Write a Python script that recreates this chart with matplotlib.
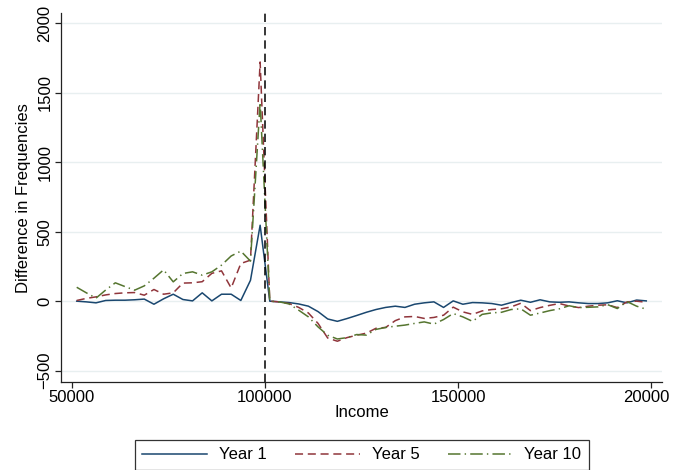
import numpy as np
import matplotlib
matplotlib.use("Agg")
import matplotlib.pyplot as plt
from matplotlib.transforms import Bbox, TransformedBbox

plt.rcParams['font.family'] = ['Liberation Sans', 'DejaVu Sans']
plt.rcParams['lines.scale_dashes'] = False

# --- income bins (2500 wide, from 50000 to 200000), plotted at the midpoint ---
income = np.arange(51250, 200000, 2500)

year1 = [0, -5, -12, 5, 7, 7, 10, 15, -22, 17,
         50, 12, 2, 60, 2, 50, 50, 5, 150, 546,
         0, -5, -10, -20, -36, -75, -128, -145, -125, -103,
         -80, -60, -45, -36, -45, -22, -12, -5, -45, 2,
         -22, -10, -12, -17, -29, -10, 7, -8, 10, -5,
         -8, -5, -12, -17, -17, -12, 3, -12, 8, 2]

year5 = [5, 20, 31, 45, 55, 60, 62, 43, 84, 50,
         60, 130, 132, 140, 200, 218, 95, 271, 295, 1720,
         0, -5, -17, -45, -85, -160, -265, -288, -262, -245,
         -230, -195, -189, -140, -113, -110, -124, -117, -101, -43,
         -77, -95, -70, -60, -55, -41, -15, -68, -46, -30,
         -17, -35, -46, -36, -29, -26, -46, -5, 0, -8]

year10 = [100, 60, 22, 80, 132, 105, 79, 110, 165, 225,
          139, 199, 211, 187, 211, 259, 325, 360, 288, 1430,
          0, -5, -20, -65, -113, -185, -245, -272, -262, -240,
          -244, -203, -189, -180, -172, -160, -149, -165, -132, -89,
          -113, -145, -95, -84, -80, -60, -55, -101, -85, -68,
          -55, -33, -46, -44, -41, -25, -53, -3, -36, -58]

threshold = 100000
xticks = [50000, 100000, 150000, 200000]
yticks = [-500, 0, 500, 1000, 1500, 2000]

fig = plt.figure(figsize=(6.84, 4.70), dpi=100)
ax = fig.add_axes([0.089, 0.187, 0.879, 0.785])

ax.plot(income, year1, color='#1a476f', lw=1.1, label='Year 1')
ax.plot(income, year5, color='#90353b', lw=1.1, ls=(0, (5.8, 3.4)), label='Year 5')
ax.plot(income, year10, color='#55752f', lw=1.1, ls=(0, (9, 3, 1, 3)), label='Year 10')
ax.axvline(threshold, color='black', lw=1.1, ls=(0, (6, 3.6)))

ax.set_xlim(47150, 202850)
ax.set_ylim(-582, 2071)
ax.set_xticks(xticks)
ax.set_yticks(yticks)
ax.grid(axis='y', color='#e8eff0', lw=1.0)
ax.set_axisbelow(True)

for s in ['top', 'right']:
    ax.spines[s].set_visible(False)
for s in ['left', 'bottom']:
    ax.spines[s].set_color('#222222')
    ax.spines[s].set_linewidth(0.9)

ax.tick_params(axis='both', direction='out', length=4, width=0.9,
               color='#222222', labelsize=12, pad=2)
for lab in ax.get_yticklabels():
    lab.set_rotation(90)
    lab.set_va('center')

ax.set_xlabel('Income', fontsize=12, labelpad=0)
ax.set_ylabel('Difference in Frequencies', fontsize=12, labelpad=5)

leg = fig.legend(loc='upper center', bbox_to_anchor=(0.529, 0.064), ncol=3,
                 fontsize=12, frameon=True, fancybox=False, edgecolor='black',
                 handlelength=3.9, handletextpad=0.7, columnspacing=1.7,
                 borderpad=0.45, borderaxespad=0)
leg.get_frame().set_linewidth(0.9)

# the last x tick label is cut off in the reference
fig.canvas.draw()
clip = TransformedBbox(Bbox([[0, 0], [669 / 684, 1]]), fig.transFigure)
for tick in ax.xaxis.get_major_ticks():
    tick.label1.set_clip_box(clip)
    tick.label1.set_clip_on(True)

fig.savefig('out.png', dpi=100)
